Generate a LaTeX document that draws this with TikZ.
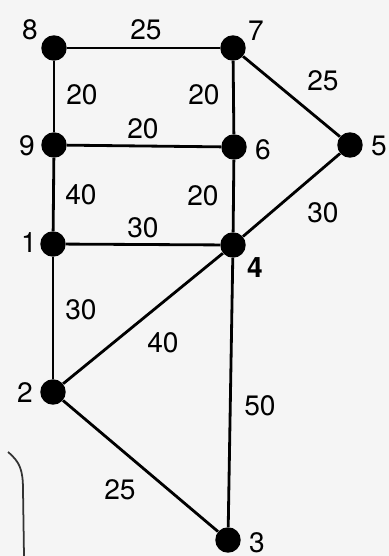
\documentclass[tikz,border=0pt]{standalone}
\usepackage{fontspec}
\setmainfont{TeX Gyre Heros}
\usepackage{tikz}
\usetikzlibrary{positioning}

\begin{document}
\begin{tikzpicture}[x=0.02cm, y=-0.02cm,
		dot/.style={circle, fill=black, inner sep=0pt, minimum size=14.5pt},
		edge/.style={line width=1.6pt},
		num/.style={font=\fontsize{16}{19}\selectfont, inner sep=0pt}]
		\useasboundingbox (0,0) rectangle (389,556);
		\fill[gray!8] (0,0) rectangle (389,556);
		
		\node[dot] (n8) at (54,48) {};
		\node[dot] (n7) at (233,48) {};
		\node[dot] (n9) at (54,145) {};
		\node[dot] (n6) at (234,147) {};
		\node[dot] (n5) at (350,145) {};
		\node[dot] (n1) at (53,244) {};
		\node[dot] (n4) at (233,245) {};
		\node[dot] (n2) at (53,392) {};
		\node[dot] (n3) at (228,540) {};
		
		% edges
		\draw[edge] (n8) -- (n7);
		\draw[edge] (n8) -- (n9);
		\draw[edge] (n7) -- (n6);
		\draw[edge] (n7) -- (n5);
		\draw[edge] (n9) -- (n6);
		\draw[edge] (n9) -- (n1);
		\draw[edge] (n6) -- (n4);
		\draw[edge] (n5) -- (n4);
		\draw[edge] (n1) -- (n4);
		\draw[edge] (n1) -- (n2);
		\draw[edge] (n2) -- (n4);
		\draw[edge] (n4) -- (n3);
		\draw[edge] (n2) -- (n3);
		
		% vertex numbers
		\node[num] (l8) at (30,30) {8};
		\node[num] (l7) at (256,31) {7};
		\node[num] (l9) at (27,146) {9};
		\node[num] (l6) at (263,150) {6};
		\node[num] (l5) at (379,146) {5};
		\node[num] (l1) at (29,243) {1};
		\node[num] (l4) at (255,268) {\textbf{4}};
		\node[num] (l2) at (25,393) {2};
		\node[num] (l3) at (257,543) {3};
		
		% weights
		\node[num] (w87) at (146,30) {25};
		\node[num] (w89) at (82,95) {20};
		\node[num] (w76) at (204,95) {20};
		\node[num] (w75) at (323,81) {25};
		\node[num] (w96) at (143,129) {20};
		\node[num] (w91) at (81,195) {40};
		\node[num] (w64) at (203,196) {20};
		\node[num] (w54) at (323,213) {30};
		\node[num] (w14) at (143,228) {30};
		\node[num] (w12) at (81,310) {30};
		\node[num] (w24) at (163,343) {40};
		\node[num] (w43) at (260,406) {50};
		\node[num] (w23) at (120,490) {25};
		
		% edge of the page
		\draw[line width=1pt, black!80] (8,452) .. controls (20,462) and (23,470) .. (23,490) -- (24,556);
	\end{tikzpicture}
\end{document}
